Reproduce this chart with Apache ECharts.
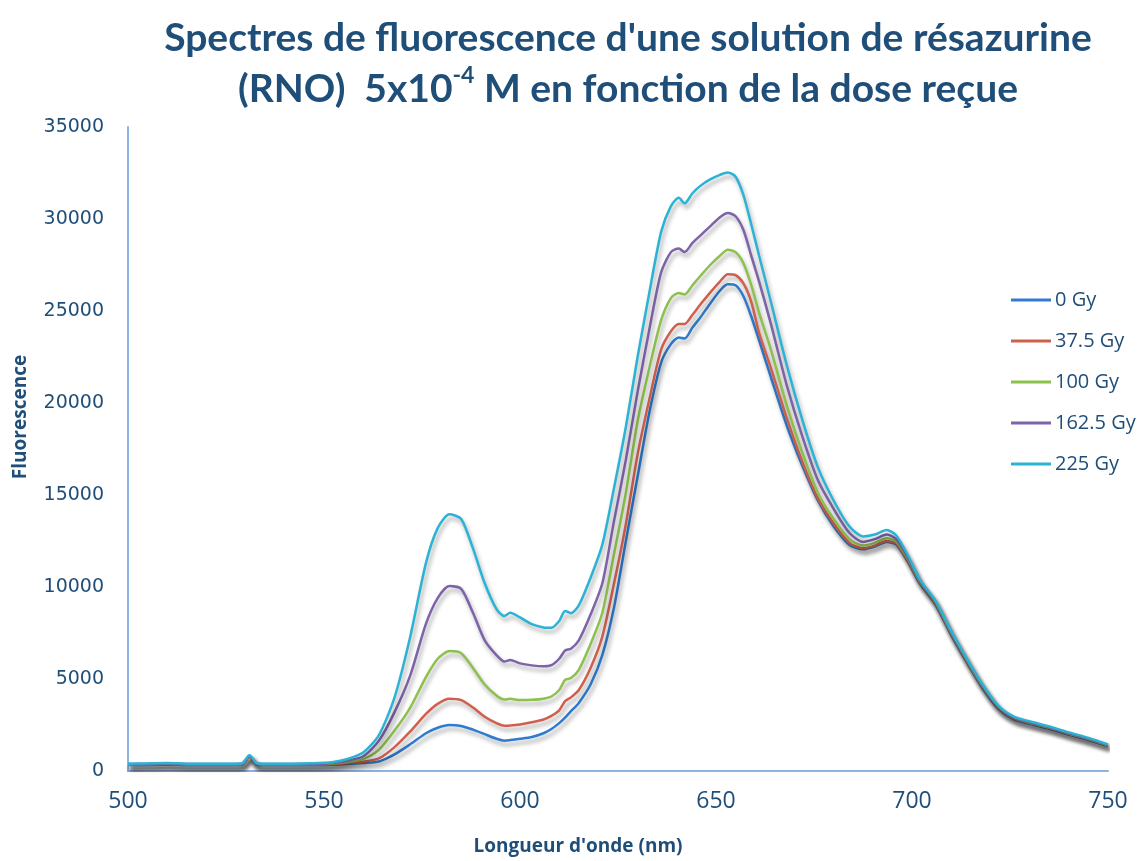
<!DOCTYPE html>
<html><head><meta charset="utf-8">
<script src="https://cdn.jsdelivr.net/npm/echarts@6/dist/echarts.min.js"></script>
<style>html,body{margin:0;padding:0;background:#fff}#c{width:1143px;height:861px}</style>
</head><body><div id="c"></div>
<script>
const wavelengths = [500,505,510,515,520,525,529,531,533,537,542,547,552,556,560,564,568,572,576,579,582,585,588,591,594,596,597.5,600,603,606,608,610,611.5,613,615,618,621,624,627,630,633,636,638.5,640.5,642,644,646,648.5,651,653,655,657,659,661,664,668,672,676,680,684,687.5,690.5,693.5,696,699,702,706,710,714,718,722,726,730,735,740,745,750];
const seriesNames = ['0 Gy','37.5 Gy','100 Gy','162.5 Gy','225 Gy'];
const gy0 = [320,330,350,320,320,320,330,770,330,320,320,325,340,380,440,520,900,1450,2050,2350,2500,2450,2250,2000,1750,1650,1680,1750,1850,2050,2280,2600,2900,3250,3700,4700,6300,8900,12500,16000,19500,22200,23200,23560,23500,24100,24650,25400,26100,26450,26400,25800,24700,23400,21400,18800,16600,14700,13300,12300,12050,12200,12450,12300,11350,10200,9050,7400,5900,4500,3400,2800,2560,2300,1980,1680,1350];
const gy37 = [340,350,370,340,340,340,350,790,350,340,340,345,370,420,500,680,1300,2150,3100,3650,3930,3850,3450,2950,2600,2460,2470,2530,2650,2800,3000,3300,3800,4000,4400,5600,7300,10200,13400,17200,20200,22900,23900,24300,24300,24800,25350,26000,26600,27000,26950,26500,25500,23800,21900,19200,16800,14800,13450,12400,12100,12250,12500,12350,11400,10250,9100,7450,5950,4550,3450,2850,2600,2340,2020,1720,1380];
const gy100 = [360,370,390,360,360,360,370,810,370,360,360,365,400,480,650,1150,2200,3450,5100,6100,6520,6400,5600,4700,4100,3880,3920,3860,3870,3930,4050,4400,4950,5050,5500,6900,8600,11800,15100,19000,21900,24500,25700,25980,25900,26400,26900,27500,28000,28330,28200,27600,26400,24900,22900,19900,17300,15100,13700,12600,12250,12400,12650,12450,11500,10300,9150,7500,6000,4600,3480,2880,2620,2360,2040,1740,1400];
const gy162 = [380,390,410,380,380,380,390,830,390,380,380,385,440,560,800,1650,3200,5200,8000,9400,10050,9900,8600,7100,6300,5950,6030,5850,5740,5690,5750,6100,6550,6650,7100,8500,10200,13600,16900,20600,24000,27100,28200,28400,28200,28700,29100,29600,30100,30330,30150,29400,28000,26600,24300,21000,18200,15800,14250,12950,12450,12600,12850,12600,11600,10350,9200,7550,6050,4650,3500,2900,2650,2380,2060,1760,1420];
const gy225 = [400,410,430,400,400,400,410,850,410,400,400,420,480,650,1000,1950,4000,7300,11300,13200,13950,13700,12100,10200,8800,8420,8600,8350,7980,7800,7780,8150,8700,8580,9000,10500,12300,15400,18700,22500,26000,29300,30700,31150,30850,31400,31800,32150,32400,32530,32300,31300,29700,28000,25500,22100,19100,16500,14700,13300,12750,12850,13100,12800,11700,10400,9250,7600,6100,4700,3550,2950,2700,2420,2100,1800,1450];
const xTicks = [500,550,600,650,700,750];
const yTicks = [0,5000,10000,15000,20000,25000,30000,35000];

const colors = ['#2E7BCF','#D0604E','#8DC04D','#7D63A8','#2BB3D6'];
const allValues = [gy0, gy37, gy100, gy162, gy225];
const dark = '#1F4E79';
const tf = 'Lato, Open Sans, sans-serif';
const chart = echarts.init(document.getElementById('c'));
chart.setOption({
  animation: false,
  backgroundColor: '#fff',
  title: {
    text: '{t|Spectres de fluorescence d\'une solution de résazurine}\n{t|(RNO)  5x10}{s|-4}{t| M en fonction de la dose reçue}',
    left: 623, top: 8, textAlign: 'center',
    textStyle: {
      rich: {
        t: {fontFamily: tf, fontWeight: 'bold', fontSize: 39, color: dark, lineHeight: 51},
        s: {fontFamily: tf, fontWeight: 'bold', fontSize: 23, color: dark, lineHeight: 51, verticalAlign: 'top', padding: [0,0,14,0]}
      }
    }
  },
  legend: {
    orient: 'vertical', left: 1006, top: 285,
    icon: 'rect', itemWidth: 40, itemHeight: 3, itemGap: 21,
    textStyle: {fontFamily: 'Open Sans, sans-serif', fontSize: 20, color: dark, padding: [0,0,0,-1]},
    data: seriesNames
  },
  grid: {left: 128, right: 35, top: 127, bottom: 70, containLabel: false},
  xAxis: {
    type: 'value', min: xTicks[0], max: xTicks[xTicks.length-1], interval: 50,
    name: 'Longueur d\'onde (nm)', nameLocation: 'middle', nameGap: 66,
    nameTextStyle: {fontFamily: 'Open Sans, sans-serif', fontWeight: 'bold', fontSize: 19, color: dark, padding: [0,80,0,0]},
    axisLine: {lineStyle: {color: '#8DB3E2', width: 2}},
    axisTick: {show: false}, splitLine: {show: false},
    axisLabel: {margin: 19, fontFamily: 'Open Sans, sans-serif', fontSize: 23, color: dark}
  },
  yAxis: {
    type: 'value', min: yTicks[0], max: yTicks[yTicks.length-1], interval: 5000,
    name: 'Fluorescence', nameLocation: 'middle', nameGap: 98,
    nameTextStyle: {fontFamily: 'Open Sans, sans-serif', fontWeight: 'bold', fontSize: 19, color: dark, padding: [0,0,0,64]},
    axisLine: {show: true, lineStyle: {color: '#8DB3E2', width: 2}},
    axisTick: {show: false}, splitLine: {show: false},
    axisLabel: {margin: 24, fontFamily: 'DejaVu Sans, sans-serif', fontSize: 19, color: dark, formatter: v => String(v)}
  },
  series: allValues.map((vals, i) => ({
    name: seriesNames[i], type: 'line', symbol: 'none', smooth: 0.25,
    data: wavelengths.map((w, k) => [w, vals[k]]),
    lineStyle: {color: colors[i], width: 2.5, shadowColor: 'rgba(0,0,0,0.35)', shadowBlur: 4, shadowOffsetX: 2, shadowOffsetY: 4},
    itemStyle: {color: colors[i]}
  }))
});
</script></body></html>
